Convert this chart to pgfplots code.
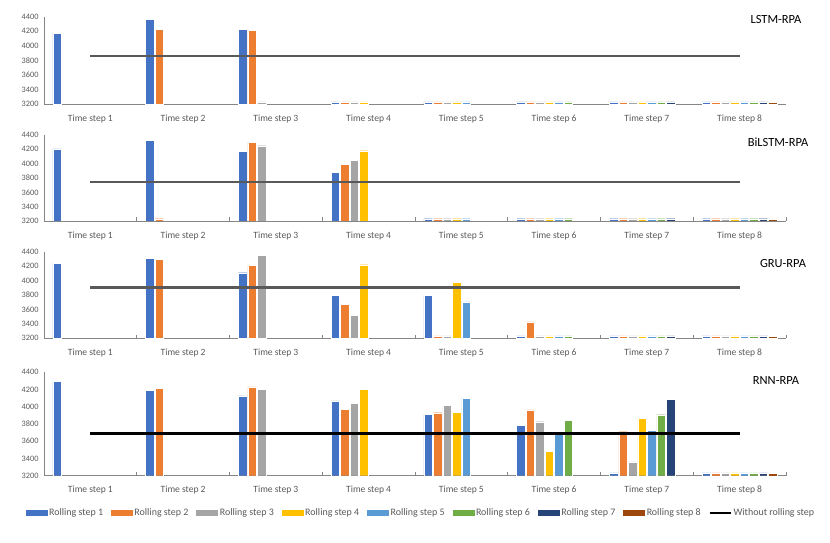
\documentclass[border=0pt]{standalone}
\usepackage{fontspec}
\setmainfont{Carlito}
\usepackage{pgfplots}
\usepackage{pgfplotstable}
\pgfplotsset{compat=1.18}
\definecolor{c1}{HTML}{4472C4}
\definecolor{c2}{HTML}{ED7D31}
\definecolor{c3}{HTML}{A5A5A5}
\definecolor{c4}{HTML}{FFC000}
\definecolor{c5}{HTML}{5B9BD5}
\definecolor{c6}{HTML}{70AD47}
\definecolor{c7}{HTML}{264478}
\definecolor{c8}{HTML}{9E480E}
\definecolor{axgray}{HTML}{868686}
\definecolor{labgray}{HTML}{595959}
\definecolor{linegray}{HTML}{595959}

% small values 3232 = bars that lie at the axis (shown as stubs)
\pgfplotstableread{
x r1 r2 r3 r4 r5 r6 r7 r8
1 4175 nan nan nan nan nan nan nan
2 4360 4230 nan nan nan nan nan nan
3 4225 4210 3232 nan nan nan nan nan
4 3232 3232 3232 3232 nan nan nan nan
5 3232 3232 3232 3232 3232 nan nan nan
6 3232 3232 3232 3232 3232 3232 nan nan
7 3232 3232 3232 3232 3232 3232 3232 nan
8 3232 3232 3232 3232 3232 3232 3232 3232
}\lstm
\pgfplotstableread{
x r1 r2 r3 r4 r5 r6 r7 r8
1 4205 nan nan nan nan nan nan nan
2 4325 3232 nan nan nan nan nan nan
3 4172 4302 4251 nan nan nan nan nan
4 3879 3995 4051 4181 nan nan nan nan
5 3232 3232 3232 3232 3232 nan nan nan
6 3232 3232 3232 3232 3232 3232 nan nan
7 3232 3232 3232 3232 3232 3232 3232 nan
8 3232 3232 3232 3232 3232 3232 3232 3232
}\bilstm
\pgfplotstableread{
x r1 r2 r3 r4 r5 r6 r7 r8
1 4243 nan nan nan nan nan nan nan
2 4312 4298 nan nan nan nan nan nan
3 4109 4211 4354 nan nan nan nan nan
4 3795 3675 3518 4220 nan nan nan nan
5 3795 3232 3232 3980 3703 nan nan nan
6 3232 3426 3232 3232 3232 3232 nan nan
7 3232 3232 3232 3232 3232 3232 3232 nan
8 3232 3232 3232 3232 3232 3232 3232 3232
}\gru
\pgfplotstableread{
x r1 r2 r3 r4 r5 r6 r7 r8
1 4292 nan nan nan nan nan nan nan
2 4191 4214 nan nan nan nan nan nan
3 4125 4230 4203 nan nan nan nan nan
4 4067 3974 4040 4203 nan nan nan nan
5 3912 3931 4013 3935 4098 nan nan nan
6 3785 3963 3827 3486 3684 3839 nan nan
7 3232 3711 3359 3866 3726 3908 4090 nan
8 3232 3232 3232 3232 3232 3232 3232 3232
}\rnn

\pgfplotsset{
  geom/.style={
    scale only axis, width=742bp,
    xmin=0.5, xmax=8.5, ymin=3200, ymax=4400,
  },
  panel/.style={
    geom,
    ybar=1bp, bar width=8.5bp,
    axis x line*=bottom, axis y line*=left,
    x axis line style={draw=axgray, line width=0.6bp, -},
    y axis line style={draw=axgray, line width=0.6bp, -},
    ytick={3200,3400,...,4400},
    xtick={1,...,8},
    xticklabels={Time step 1,Time step 2,Time step 3,Time step 4,Time step 5,Time step 6,Time step 7,Time step 8},
    major tick length=0pt,
    tick align=inside,
    minor tick length=3.5bp,
    minor tick style={draw=axgray, line width=0.6bp},
    yticklabel style={font=\fontsize{8.3}{9}\selectfont, text=labgray, xshift=-2bp},
    xticklabel style={font=\fontsize{9.6}{11}\selectfont, text=labgray, yshift=-7bp},
    /pgf/number format/assume math mode=true,
    /pgf/number format/set thousands separator={},
  },
  bs/.style={fill=#1, draw=white, line width=0.3bp},
  over/.style={geom, hide axis},
}

\newcommand{\bars}[1]{%
\addplot[bs=c1] table[x=x,y=r1]{#1};
\addplot[bs=c2] table[x=x,y=r2]{#1};
\addplot[bs=c3] table[x=x,y=r3]{#1};
\addplot[bs=c4] table[x=x,y=r4]{#1};
\addplot[bs=c5] table[x=x,y=r5]{#1};
\addplot[bs=c6] table[x=x,y=r6]{#1};
\addplot[bs=c7] table[x=x,y=r7]{#1};
\addplot[bs=c8] table[x=x,y=r8]{#1};
}

\begin{document}
\begin{tikzpicture}
\path[use as bounding box] (0bp,0bp) rectangle (830bp,543bp);

% Panel 1: LSTM-RPA
\begin{axis}[panel, at={(44bp,438.7bp)}, anchor=south west, height=87.6bp]
\bars{\lstm}
\end{axis}
\begin{axis}[over, at={(44bp,438.7bp)}, anchor=south west, height=87.6bp]
\addplot[sharp plot, no marks, draw=linegray, line width=2.4bp] coordinates {(1,3865) (8,3865)};
\end{axis}
\node[font=\fontsize{12.5}{14}\selectfont] at (776bp,523bp) {LSTM-RPA};

% Panel 2: BiLSTM-RPA
\begin{axis}[panel, at={(44bp,322bp)}, anchor=south west, height=86bp, minor xtick={0.5,1.5,...,8.5}]
\bars{\bilstm}
\end{axis}
\begin{axis}[over, at={(44bp,322bp)}, anchor=south west, height=86bp]
\addplot[sharp plot, no marks, draw=linegray, line width=2.4bp] coordinates {(1,3740) (8,3740)};
\end{axis}
\node[font=\fontsize{12.5}{14}\selectfont] at (778bp,401bp) {BiLSTM-RPA};

% Panel 3: GRU-RPA
\begin{axis}[panel, at={(44bp,204.7bp)}, anchor=south west, height=86.6bp, minor xtick={0.5,1.5,...,8.5}]
\bars{\gru}
\end{axis}
\begin{axis}[over, at={(44bp,204.7bp)}, anchor=south west, height=86.6bp]
\addplot[sharp plot, no marks, draw=linegray, line width=2.4bp] coordinates {(1,3905) (8,3905)};
\end{axis}
\node[font=\fontsize{12.5}{14}\selectfont] at (783bp,279bp) {GRU-RPA};

% Panel 4: RNN-RPA
\begin{axis}[panel, at={(44bp,67.3bp)}, anchor=south west, height=103.4bp, minor xtick={0.5,1.5,...,8.5}]
\bars{\rnn}
\end{axis}
\begin{axis}[over, at={(44bp,67.3bp)}, anchor=south west, height=103.4bp,
  legend style={at={(0.508,-0.361)}, anchor=center, draw=none, fill=none,
    legend columns=9, font=\fontsize{10}{11}\selectfont, text=labgray,
    /tikz/every even column/.append style={column sep=6bp},
    inner sep=0pt, row sep=0pt}]
\addlegendimage{legend image code/.code={\fill[c1] (0bp,-2.6bp) rectangle (21bp,2.6bp);}}
\addlegendentry{Rolling step 1}
\addlegendimage{legend image code/.code={\fill[c2] (0bp,-2.6bp) rectangle (21bp,2.6bp);}}
\addlegendentry{Rolling step 2}
\addlegendimage{legend image code/.code={\fill[c3] (0bp,-2.6bp) rectangle (21bp,2.6bp);}}
\addlegendentry{Rolling step 3}
\addlegendimage{legend image code/.code={\fill[c4] (0bp,-2.6bp) rectangle (21bp,2.6bp);}}
\addlegendentry{Rolling step 4}
\addlegendimage{legend image code/.code={\fill[c5] (0bp,-2.6bp) rectangle (21bp,2.6bp);}}
\addlegendentry{Rolling step 5}
\addlegendimage{legend image code/.code={\fill[c6] (0bp,-2.6bp) rectangle (21bp,2.6bp);}}
\addlegendentry{Rolling step 6}
\addlegendimage{legend image code/.code={\fill[c7] (0bp,-2.6bp) rectangle (21bp,2.6bp);}}
\addlegendentry{Rolling step 7}
\addlegendimage{legend image code/.code={\fill[c8] (0bp,-2.6bp) rectangle (21bp,2.6bp);}}
\addlegendentry{Rolling step 8}
\addplot[sharp plot, no marks, draw=black, line width=2.4bp,
  legend image code/.code={\draw[black, line width=1.8bp] (0bp,0bp) -- (21bp,0bp);}]
  coordinates {(1,3690) (8,3690)};
\addlegendentry{Without rolling step}
\end{axis}
\node[font=\fontsize{12.5}{14}\selectfont] at (776bp,162bp) {RNN-RPA};
\end{tikzpicture}
\end{document}
